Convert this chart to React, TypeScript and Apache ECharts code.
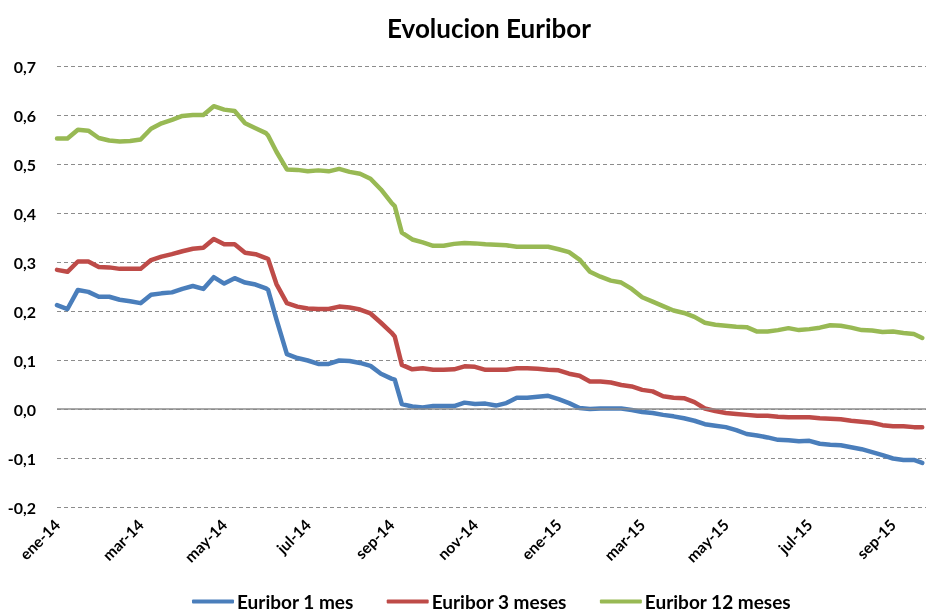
import React, { useEffect, useRef } from 'react';
import * as echarts from 'echarts';

// Posición en meses desde el 1 de enero de 2014 (aprox. semanal)
const meses = [
  0, 0.25, 0.5, 0.75, 1, 1.25, 1.5, 1.75, 2, 2.25,
  2.5, 2.75, 3, 3.25, 3.5, 3.75, 4, 4.25, 4.5, 4.75,
  5, 5.05, 5.25, 5.5, 5.75, 6, 6.25, 6.5, 6.75, 7,
  7.25, 7.5, 7.75, 8, 8.08, 8.25, 8.5, 8.75, 9, 9.25,
  9.5, 9.75, 10, 10.25, 10.5, 10.75, 11, 11.25, 11.5, 11.75,
  12, 12.25, 12.5, 12.75, 13, 13.25, 13.5, 13.75, 14, 14.25,
  14.5, 14.75, 15, 15.25, 15.5, 15.75, 16, 16.25, 16.5, 16.75,
  17, 17.25, 17.5, 17.75, 18, 18.25, 18.5, 18.75, 19, 19.25,
  19.5, 19.75, 20, 20.25, 20.5, 20.7,
];

const euribor1m = [
  0.212, 0.204, 0.243, 0.239, 0.229, 0.229, 0.223, 0.220, 0.216, 0.233,
  0.236, 0.238, 0.245, 0.251, 0.245, 0.269, 0.256, 0.267, 0.258, 0.254,
  0.246, 0.243, 0.183, 0.112, 0.104, 0.099, 0.092, 0.092, 0.099, 0.098,
  0.094, 0.088, 0.072, 0.062, 0.060, 0.010, 0.005, 0.003, 0.006, 0.006,
  0.006, 0.013, 0.010, 0.011, 0.007, 0.012, 0.023, 0.023, 0.025, 0.027,
  0.020, 0.012, 0.002, 0.000, 0.001, 0.001, 0.001, -0.002, -0.006, -0.008,
  -0.012, -0.015, -0.019, -0.024, -0.031, -0.034, -0.037, -0.043, -0.051, -0.054,
  -0.058, -0.063, -0.064, -0.066, -0.065, -0.071, -0.073, -0.074, -0.078, -0.082,
  -0.088, -0.094, -0.101, -0.104, -0.104, -0.110,
];

const euribor3m = [
  0.284, 0.280, 0.301, 0.301, 0.290, 0.289, 0.286, 0.286, 0.286, 0.304,
  0.311, 0.316, 0.322, 0.327, 0.329, 0.347, 0.336, 0.336, 0.319, 0.316,
  0.308, 0.306, 0.255, 0.216, 0.209, 0.205, 0.204, 0.204, 0.209, 0.207,
  0.203, 0.195, 0.176, 0.156, 0.148, 0.090, 0.081, 0.083, 0.080, 0.080,
  0.081, 0.087, 0.086, 0.080, 0.080, 0.080, 0.083, 0.083, 0.082, 0.080,
  0.079, 0.072, 0.068, 0.056, 0.056, 0.054, 0.049, 0.046, 0.039, 0.036,
  0.026, 0.023, 0.022, 0.014, 0.001, -0.004, -0.008, -0.010, -0.012, -0.014,
  -0.014, -0.016, -0.017, -0.017, -0.017, -0.019, -0.020, -0.021, -0.024, -0.026,
  -0.028, -0.033, -0.035, -0.035, -0.037, -0.037,
];

const euribor12m = [
  0.552, 0.552, 0.570, 0.568, 0.553, 0.548, 0.546, 0.547, 0.550, 0.572,
  0.583, 0.590, 0.598, 0.600, 0.600, 0.618, 0.611, 0.608, 0.583, 0.573,
  0.563, 0.558, 0.525, 0.489, 0.488, 0.485, 0.487, 0.485, 0.490, 0.484,
  0.480, 0.470, 0.448, 0.421, 0.414, 0.360, 0.346, 0.340, 0.333, 0.333,
  0.337, 0.339, 0.338, 0.336, 0.335, 0.334, 0.331, 0.331, 0.331, 0.331,
  0.326, 0.320, 0.305, 0.280, 0.270, 0.262, 0.258, 0.245, 0.228, 0.219,
  0.210, 0.201, 0.196, 0.188, 0.176, 0.172, 0.170, 0.168, 0.167, 0.158,
  0.158, 0.161, 0.165, 0.161, 0.163, 0.166, 0.171, 0.170, 0.166, 0.161,
  0.160, 0.157, 0.158, 0.155, 0.153, 0.145,
];

const nombresSeries = ['Euribor 1 mes', 'Euribor 3 meses', 'Euribor 12 meses'];
const coloresSeries = ['#4A7EBB', '#BE4B48', '#98B954'];
const mesesEs = ['ene', 'feb', 'mar', 'abr', 'may', 'jun', 'jul', 'ago', 'sep', 'oct', 'nov', 'dic'];
const anioInicio = 2014;

const FONT = 'Lato, "Open Sans", sans-serif';

export default function App() {
  const ref = useRef<HTMLDivElement>(null);

  useEffect(() => {
    const chart = echarts.init(ref.current!, null, { renderer: 'svg' });
    const pares = (vals: number[]) => meses.map((m, i) => [m, vals[i]]);
    const valores = [euribor1m, euribor3m, euribor12m];

    chart.setOption({
      animation: false,
      title: {
        text: 'Evolucion Euribor',
        left: 484,
        top: 10,
        textAlign: 'center',
        textStyle: { fontFamily: FONT, fontWeight: 'bold', fontSize: 26, color: '#000' },
      },
      legend: {
        left: 187,
        top: 587,
        itemWidth: 42,
        itemHeight: 4,
        itemGap: 33,
        icon: 'roundRect',
        textStyle: { fontFamily: FONT, fontWeight: 'bold', fontSize: 19, color: '#000', padding: [0, 0, 0, -2] },
        data: nombresSeries,
      },
      grid: { left: 57, right: 0, top: 66, bottom: 107, containLabel: false },
      xAxis: {
        type: 'value',
        min: 0,
        max: 20.79,
        interval: 2,
        axisLine: { show: false },
        axisTick: { show: false },
        splitLine: { show: false },
        axisLabel: {
          rotate: 45,
          margin: 15,
          showMaxLabel: false,
          fontFamily: FONT,
          fontWeight: 'bold',
          fontSize: 15.5,
          color: '#000',
          formatter: (v: number) => {
            const r = Math.round(v);
            if (Math.abs(v - r) > 1e-6 || r % 2 !== 0 || r > 20) return '';
            const y = anioInicio + Math.floor(r / 12);
            return mesesEs[r % 12] + '-' + String(y).slice(2);
          },
        },
      },
      yAxis: {
        type: 'value',
        min: -0.2,
        max: 0.7,
        interval: 0.1,
        axisLine: { show: false },
        axisTick: { show: false },
        splitLine: { show: true, lineStyle: { type: [4, 3], color: '#8C8C8C', width: 1 } },
        axisLabel: {
          margin: 21,
          fontFamily: FONT,
          fontWeight: 'bold',
          fontSize: 16,
          color: '#000',
          formatter: (v: number) => v.toFixed(1).replace('.', ','),
        },
      },
      series: [
        {
          type: 'line',
          name: '__cero',
          data: [],
          z: 1,
          silent: true,
          markLine: {
            silent: true,
            symbol: 'none',
            label: { show: false },
            lineStyle: { type: 'solid', color: '#8C8C8C', width: 1.5 },
            data: [{ yAxis: 0 }],
          },
        },
        ...nombresSeries.map((n, i) => ({
          type: 'line',
          name: n,
          data: pares(valores[i]),
          showSymbol: false,
          symbol: 'none',
          z: 3,
          color: coloresSeries[i],
          lineStyle: { width: 4.5, color: coloresSeries[i], cap: 'round', join: 'round' },
        })),
      ],
    });

    return () => chart.dispose();
  }, []);

  return <div ref={ref} style={{ position: 'fixed', left: 0, top: 0, width: 926, height: 614 }} />;
}
